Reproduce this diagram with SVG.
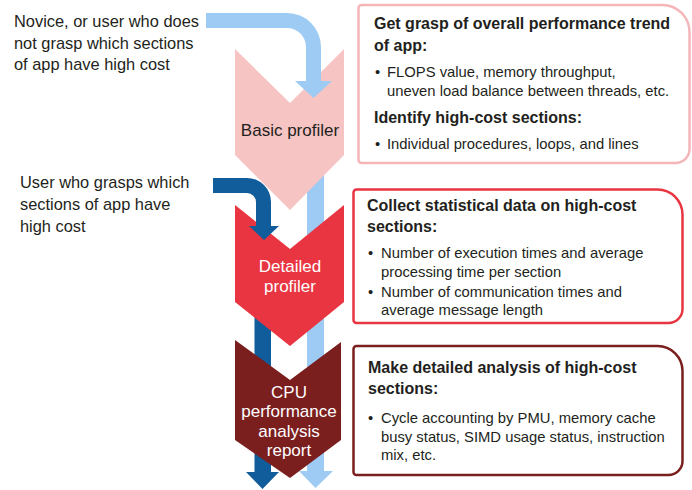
<svg xmlns="http://www.w3.org/2000/svg" width="692" height="490" viewBox="0 0 692 490">
  <style>
    text { font-family: "Liberation Sans", Arial, sans-serif; fill: #231f20; }
    .lead { font-size: 16.4px; }
    .stage { font-size: 17px; text-anchor: middle; }
    .stage.light { fill: #ffffff; }
    .head { font-size: 16px; font-weight: bold; }
    .item { font-size: 14.8px; }
    .flow-light { fill: #9ecbf3; }
    .flow-dark { fill: #115c9b; }
    .box { fill: #ffffff; stroke-width: 2.5; }
  </style>

  <!-- Long shafts that run behind the stage chevrons -->
  <g id="connectors-back">
    <path class="flow-light" d="M307,150 H324 V471 H333 L315.5,488 L299,471 H307 Z"/>
    <path class="flow-dark" d="M254.5,300 H271 V472 H279 L262.5,489 L246,472 H254.5 Z"/>
  </g>

  <!-- Stage chevrons -->
  <g id="basic-profiler">
    <path d="M235,49 L290,103 L344,49 V155 L290,210 L235,155 Z" fill="#f7c4c4"/>
    <text class="stage" x="290" y="136">Basic profiler</text>
  </g>

  <g id="detailed-profiler">
    <path d="M235,205 L290,249 L344,205 V302 L290,346 L235,302 Z" fill="#e83541"/>
    <text class="stage light" x="290" y="272">Detailed</text>
    <text class="stage light" x="290" y="292">profiler</text>
  </g>

  <g id="cpu-report">
    <path d="M235,340 L290,380 L341,342 V440 L290,478 L235,440 Z" fill="#7a1e1e"/>
    <text class="stage light" x="289" y="398">CPU</text>
    <text class="stage light" x="289" y="417">performance</text>
    <text class="stage light" x="289" y="437">analysis</text>
    <text class="stage light" x="289" y="456">report</text>
  </g>

  <!-- Entry arrows for the two kinds of user -->
  <g id="connectors-front">
    <path class="flow-light" d="M206,13 H287 A34,34 0 0 1 321,47 V81 H332 L313.5,98 L295,81 H306 V47 A19,19 0 0 0 287,28 H206 Z"/>
    <path class="flow-dark" d="M213,178 H247 A24,24 0 0 1 271,202 V226 H279 L264,240 L249,226 H256 V202 A9,9 0 0 0 247,193 H213 Z"/>
  </g>

  <!-- User descriptions -->
  <g id="novice-user">
    <text class="lead" x="14" y="27">Novice, or user who does</text>
    <text class="lead" x="14" y="48.5">not grasp which sections</text>
    <text class="lead" x="14" y="70">of app have high cost</text>
  </g>

  <g id="informed-user">
    <text class="lead" x="20" y="188">User who grasps which</text>
    <text class="lead" x="20" y="210">sections of app have</text>
    <text class="lead" x="20" y="232">high cost</text>
  </g>

  <!-- Description boxes -->
  <g id="basic-notes">
    <path class="box" stroke="#f4b6b8" d="M361.5,5 H662.5 A27,27 0 0 1 689.5,32 V149 A14,14 0 0 1 675.5,163 H361.5 A3,3 0 0 1 358.5,160 V8 A3,3 0 0 1 361.5,5 Z"/>
    <text class="head" x="374" y="29">Get grasp of overall performance trend</text>
    <text class="head" x="374" y="51">of app:</text>
    <text class="item" x="375" y="77">•</text>
    <text class="item" x="387" y="77">FLOPS value, memory throughput,</text>
    <text class="item" x="387" y="96">uneven load balance between threads, etc.</text>
    <text class="head" x="374" y="123">Identify high-cost sections:</text>
    <text class="item" x="375" y="149">•</text>
    <text class="item" x="387" y="149">Individual procedures, loops, and lines</text>
  </g>

  <g id="detailed-notes">
    <path class="box" stroke="#e83541" d="M356.5,189.5 H657.5 A25,25 0 0 1 682.5,214.5 V309 A14,14 0 0 1 668.5,323 H356.5 A3,3 0 0 1 353.5,320 V192.5 A3,3 0 0 1 356.5,189.5 Z"/>
    <text class="head" x="367" y="211">Collect statistical data on high-cost</text>
    <text class="head" x="367" y="232">sections:</text>
    <text class="item" x="368" y="258">•</text>
    <text class="item" x="381" y="258">Number of execution times and average</text>
    <text class="item" x="381" y="277">processing time per section</text>
    <text class="item" x="368" y="297">•</text>
    <text class="item" x="381" y="297">Number of communication times and</text>
    <text class="item" x="381" y="315">average message length</text>
  </g>

  <g id="cpu-notes">
    <path class="box" stroke="#7a1e1e" d="M356.5,346 H657.5 A25,25 0 0 1 682.5,371 V461 A14,14 0 0 1 668.5,475 H356.5 A3,3 0 0 1 353.5,472 V349 A3,3 0 0 1 356.5,346 Z"/>
    <text class="head" x="368" y="373">Make detailed analysis of high-cost</text>
    <text class="head" x="368" y="394">sections:</text>
    <text class="item" x="368" y="423">•</text>
    <text class="item" x="381" y="423">Cycle accounting by PMU, memory cache</text>
    <text class="item" x="381" y="442">busy status, SIMD usage status, instruction</text>
    <text class="item" x="381" y="460">mix, etc.</text>
  </g>
</svg>
